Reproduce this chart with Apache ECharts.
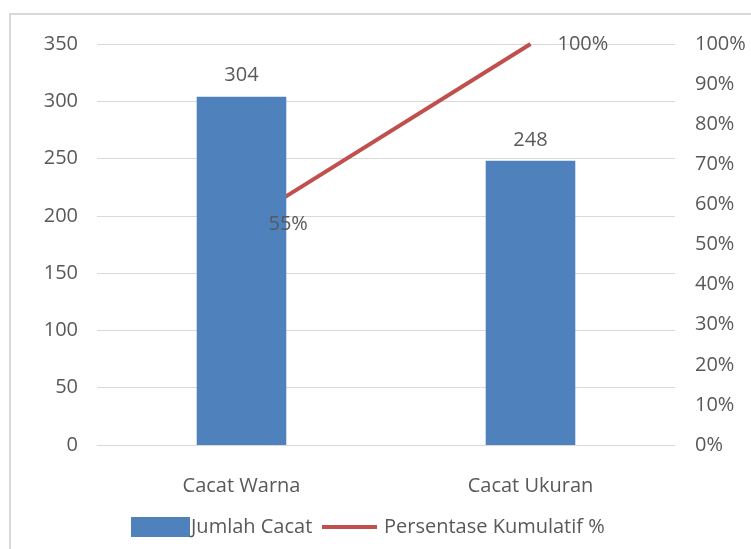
<!DOCTYPE html>
<html>
<head>
<meta charset="utf-8">
<script src="https://cdn.jsdelivr.net/npm/echarts@6/dist/echarts.min.js"></script>
<style>
  html, body { margin: 0; padding: 0; background: #fff; }
  #chart { width: 751px; height: 549px; }
</style>
</head>
<body>
<div id="chart"></div>
<script>
// data
var categories = ["Cacat Warna", "Cacat Ukuran"];
var jumlahCacat = [304, 248];
var persenKumulatif = [55.07, 100];
var barName = "Jumlah Cacat";
var lineName = "Persentase Kumulatif %";

var txtColor = "#595959";
var font = "Open Sans";

var myChart = echarts.init(document.getElementById("chart"));

var option = {
    animation: false,
    textStyle: { fontFamily: font },
    graphic: [{
        type: "rect",
        shape: { x: 10, y: 14, width: 800, height: 600 },
        style: { fill: "none", stroke: "#d9d9d9", lineWidth: 2 },
        silent: true
    }],
    grid: { left: 97, right: 76, top: 44, bottom: 104 },
    legend: [{
        // bar legend
        top: 512,
        left: 126,
        itemWidth: 59,
        itemHeight: 20,
        textStyle: { color: txtColor, fontSize: 20, fontFamily: font, padding: [0, 0, 0, -4] },
        data: [{ name: barName, icon: "rect" }]
    }, {
        // line legend
        top: 512,
        left: 317,
        itemWidth: 55,
        itemHeight: 4,
        textStyle: { color: txtColor, fontSize: 20, fontFamily: font, padding: [0, 0, 0, 2] },
        data: [{ name: lineName, icon: "rect", itemStyle: { color: "#c0504d" } }]
    }],
    xAxis: {
        type: "category",
        data: categories,
        axisTick: { show: false },
        axisLine: { lineStyle: { color: "#d9d9d9" } },
        axisLabel: { color: txtColor, fontSize: 20, margin: 31 }
    },
    yAxis: [{
        type: "value",
        min: 0,
        max: 350,
        interval: 50,
        axisLabel: { color: txtColor, fontSize: 20, margin: 19 },
        splitLine: { lineStyle: { color: "#d9d9d9" } }
    }, {
        type: "value",
        min: 0,
        max: 100,
        interval: 10,
        position: "right",
        axisLabel: { color: txtColor, fontSize: 20, margin: 20, formatter: "{value}%" },
        splitLine: { show: false }
    }],
    series: [{
        name: barName,
        type: "bar",
        data: jumlahCacat,
        barWidth: "31%",
        z: 3,
        itemStyle: { color: "#4f81bd" },
        label: { show: true, position: "top", distance: 11, color: txtColor, fontSize: 20 }
    }, {
        name: lineName,
        type: "line",
        yAxisIndex: 1,
        data: persenKumulatif,
        symbol: "none",
        z: 2,
        lineStyle: { color: "#c0504d", width: 4 },
        itemStyle: { color: "#c0504d" }
    }, {
        // labels of the line, drawn above the bars
        name: "label",
        type: "scatter",
        yAxisIndex: 1,
        data: persenKumulatif,
        symbolSize: 0,
        z: 5,
        itemStyle: { opacity: 1 },
        label: {
            show: true, position: "right", distance: 27, color: txtColor, fontSize: 20,
            formatter: function (p) { return Math.round(p.value[1] !== undefined ? p.value[1] : p.value) + "%"; }
        }
    }]
};

myChart.setOption(option);
</script>
</body>
</html>
